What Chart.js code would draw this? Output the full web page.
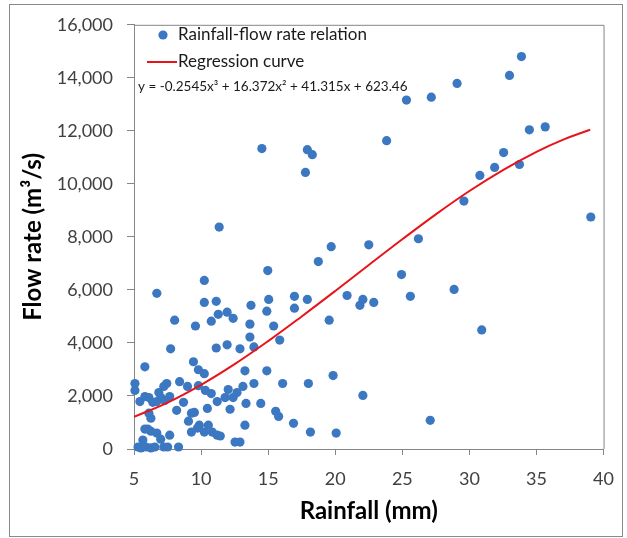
<!DOCTYPE html>
<html><head><meta charset="utf-8">
<script src="https://cdn.jsdelivr.net/npm/chart.js@4/dist/chart.umd.min.js"></script>
<style>html,body{margin:0;padding:0;background:#fff;}canvas{display:block}</style>
</head><body>
<canvas id="c" width="627" height="538"></canvas>
<script>
// ---- data ----
const rainfall = [14.53,17.92,18.29,17.78,11.35,25.31,27.16,29.08,32.99,33.88,23.83,34.47,35.65,32.55,31.88,30.78,33.73,29.59,39.05,26.2,19.7,22.5,18.74,24.94,28.86,17.92,20.88,22.06,21.84,22.87,25.6,19.55,30.92,19.84,18.0,22.06,27.08,18.15,20.07,
 6.7,10.24,10.24,11.13,14.97,8.03,9.58,10.76,11.28,11.94,12.39,13.72,15.04,14.9,16.96,16.96,13.64,15.41,13.64,15.86,13.94,12.9,11.94,11.13,7.73,9.43,5.81,
 9.8,10.24,13.27,14.9,5.07,5.07,7.44,7.22,8.4,8.99,9.8,10.32,10.76,11.2,5.44,5.81,6.11,6.4,6.85,7.0,7.29,7.66,6.7,8.69,8.18,6.11,6.26,9.06,9.5,9.28,10.47,9.87,10.54,9.73,9.28,10.24,5.81,6.03,6.26,6.7,6.99,7.66,5.66,5.3,5.52,5.89,6.26,6.55,7.22,7.51,8.32,11.2,10.83,12.02,12.39,11.79,12.68,13.12,13.94,16.08,12.16,13.35,14.45,15.56,15.78,16.89,13.27,11.43,12.53,12.9];
const flowRate = [11330,11290,11100,10430,8370,13160,13270,13790,14090,14800,11630,12040,12150,11180,10620,10320,10730,9350,8750,7930,7630,7700,7070,6580,6020,5640,5790,5640,5420,5530,5760,4860,4490,2770,2470,2020,1080,640,600,
 5870,6360,5530,5570,6730,4860,4640,4820,5080,5160,4930,5420,5640,5200,5760,5310,4710,4640,4220,4110,3850,3780,3930,3810,3780,3290,3100,
 2990,2840,2950,2950,2470,2210,2470,2360,2540,2360,2390,2210,2090,1790,1790,1980,1940,1760,2130,1940,1830,1980,1790,1760,1460,1350,1160,1050,1380,1350,1530,900,900,790,640,640,750,750,670,600,370,520,340,75,40,75,40,75,75,75,75,520,640,2240,1940,1940,2130,2360,2470,2470,1500,1720,1720,1420,1230,970,900,490,260,260];
const curveRainfall = [5,7.5,10,12.5,15,17.5,20,22.5,25,27.5,30,32.5,35,37,39];
const curveFlow = [1210,1750,2420,3200,4070,5000,5960,6940,7910,8850,9730,10520,11210,11670,12040];
const xTicks = [5,10,15,20,25,30,35,40];
const yTicks = [0,2000,4000,6000,8000,10000,12000,14000,16000];
const seriesNames = ['Rainfall-flow rate relation','Regression curve'];
const equationText = 'y = -0.2545x\u00B3 + 16.372x\u00B2 + 41.315x + 623.46';
const xTitle = 'Rainfall (mm)';
const yTitle = 'Flow rate (m\u00B3/s)';

const BLUE = '#3b78c1', RED = '#e8141a', AXIS = '#868686', FONT = 'Lato';

const pts = rainfall.map((x,i)=>({x, y: flowRate[i]}));
const curve = curveRainfall.map((x,i)=>({x, y: curveFlow[i]}));

const decor = {
  id: 'decor',
  beforeDatasetsDraw(chart){
    const {ctx, chartArea:a} = chart;
    ctx.save();
    ctx.strokeStyle = AXIS; ctx.lineWidth = 1;
    ctx.beginPath();
    ctx.moveTo(a.left, a.top+0.5); ctx.lineTo(a.right+0.5, a.top+0.5); ctx.lineTo(a.right+0.5, a.bottom);
    ctx.stroke();
    ctx.restore();
  },
  afterDraw(chart){
    const {ctx} = chart;
    ctx.save();
    ctx.strokeStyle = '#8a8a8a'; ctx.lineWidth = 1;
    ctx.strokeRect(9.5, 4.5, 613, 532);
    ctx.fillStyle = BLUE;
    ctx.beginPath(); ctx.arc(163, 35, 4.6, 0, Math.PI*2); ctx.fill();
    ctx.strokeStyle = RED; ctx.lineWidth = 2;
    ctx.beginPath(); ctx.moveTo(147, 62); ctx.lineTo(177, 62); ctx.stroke();
    ctx.fillStyle = '#1a1a1a';
    ctx.textBaseline = 'middle'; ctx.textAlign = 'left';
    ctx.font = '17px ' + FONT;
    ctx.fillText(seriesNames[0], 178, 35);
    ctx.fillText(seriesNames[1], 178, 62);
    ctx.font = '13.5px ' + FONT;
    ctx.fillText(equationText, 138, 87);
    ctx.restore();
  }
};

new Chart(document.getElementById('c'), {
  type: 'scatter',
  data: { datasets: [
    { label: seriesNames[1], data: curve, showLine: true, borderColor: RED, borderWidth: 2,
      pointRadius: 0, tension: 0.4, fill: false, order: 0 },
    { label: seriesNames[0], data: pts, backgroundColor: BLUE, borderWidth: 0,
      pointRadius: 4.6, pointHoverRadius: 4.6, clip: false, order: 1 }
  ]},
  options: {
    responsive: false, animation: false, devicePixelRatio: 1,
    layout: { padding: { top: 21, right: 19, left: 0, bottom: 0 } },
    plugins: { legend: { display: false }, tooltip: { enabled: false } },
    scales: {
      x: {
        type: 'linear', min: 5, max: 40,
        afterBuildTicks: s => { s.ticks = xTicks.map(v => ({value: v})); },
        afterFit: s => { s.height = 89; },
        grid: { drawOnChartArea: false, drawTicks: true, tickLength: 6, color: AXIS },
        border: { color: AXIS },
        ticks: { font: { family: FONT, size: 18 }, color: '#404040', padding: 13, maxRotation: 0 },
        title: { display: true, text: xTitle, color: '#000',
          font: { family: FONT, size: 24, weight: 'bold', lineHeight: 1.2 }, padding: { top: 12, bottom: 12 } }
      },
      y: {
        min: 0, max: 16000,
        afterBuildTicks: s => { s.ticks = yTicks.map(v => ({value: v})); },
        afterFit: s => { s.width = 134; },
        grid: { drawOnChartArea: false, drawTicks: true, tickLength: 7, color: AXIS },
        border: { color: AXIS },
        ticks: { font: { family: FONT, size: 18 }, color: '#404040', padding: 14,
          callback: v => v.toLocaleString('en-US') },
        title: { display: true, text: yTitle, color: '#000',
          font: { family: FONT, size: 24, weight: 'bold', lineHeight: 1.2 }, padding: { top: 19, bottom: 19 } }
      }
    }
  },
  plugins: [decor]
});
</script>
</body></html>
